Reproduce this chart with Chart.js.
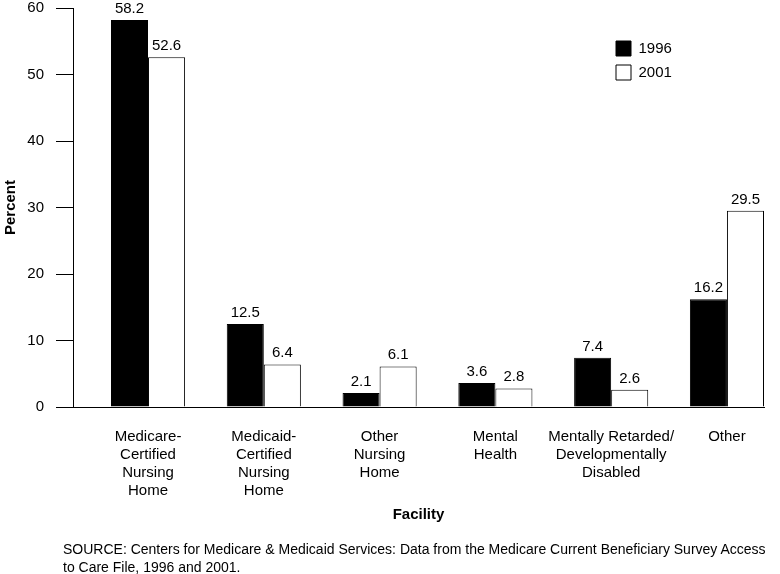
<!DOCTYPE html>
<html>
<head>
<meta charset="utf-8">
<script src="https://cdn.jsdelivr.net/npm/chart.js@4"></script>
<style>
    body { margin: 0; background: #fff; }
    #contenedor { position: relative; width: 780px; height: 574px; }
    #fuente {
        position: absolute; left: 63px; top: 540px;
        font: 14px "Liberation Sans", Arial, sans-serif; line-height: 18px; color: #000;
    }
</style>
</head>
<body>
<div id="contenedor">
    <canvas id="grafica" width="780" height="574"></canvas>
    <div id="fuente">SOURCE: Centers for Medicare &amp; Medicaid Services: Data from the Medicare Current Beneficiary Survey Access<br>to Care File, 1996 and 2001.</div>
</div>
<script>
var categorias = [
    ["Medicare-", "Certified", "Nursing", "Home"],
    ["Medicaid-", "Certified", "Nursing", "Home"],
    ["Other", "Nursing", "Home"],
    ["Mental", "Health"],
    ["Mentally Retarded/", "Developmentally", "Disabled"],
    ["Other"],
];
var valores1996 = [58.2, 12.5, 2.1, 3.6, 7.4, 16.2];
var valores2001 = [52.6, 6.4, 6.1, 2.8, 2.6, 29.5];
var marcasY = [0, 10, 20, 30, 40, 50, 60];

var fuente = '"Liberation Sans", Arial, sans-serif';
Chart.defaults.font.family = fuente;
Chart.defaults.font.size = 15;
Chart.defaults.color = "#000";

function aPuntos(valores) {
    return valores.map(function (v, i) { return { x: i, y: v }; });
}

// numeros encima de cada barra
var etiquetas = {
    id: "etiquetas",
    afterDatasetsDraw: function (chart) {
        var ctx = chart.ctx;
        ctx.save();
        ctx.font = "15px " + fuente;
        ctx.fillStyle = "#000";
        ctx.textAlign = "center";
        ctx.textBaseline = "alphabetic";
        chart.data.datasets.forEach(function (ds, i) {
            chart.getDatasetMeta(i).data.forEach(function (barra, j) {
                ctx.fillText(ds.data[j].y.toFixed(1), barra.x, barra.y - 7);
            });
        });
        ctx.restore();
    },
};

// la leyenda va dentro del area, arriba a la derecha
var moverLeyenda = {
    id: "moverLeyenda",
    afterLayout: function (chart) {
        var lg = chart.legend;
        var w = lg.width, h = lg.height;
        lg.left = 607;
        lg.top = 32;
        lg.right = lg.left + w;
        lg.bottom = lg.top + h;
    },
};

new Chart(document.getElementById("grafica"), {
    type: "bar",
    data: {
        datasets: [
            {
                label: "1996",
                data: aPuntos(valores1996),
                backgroundColor: "#000",
                borderColor: "#000",
                borderWidth: 1,
            },
            {
                label: "2001",
                data: aPuntos(valores2001),
                backgroundColor: "#fff",
                borderColor: "#000",
                borderWidth: 1,
            },
        ],
    },
    options: {
        responsive: false,
        animation: false,
        categoryPercentage: 0.64,
        barPercentage: 1,
        layout: { padding: { left: 0, right: 16, top: 0, bottom: 44 } },
        plugins: {
            tooltip: { enabled: false },
            legend: {
                position: "chartArea",
                align: "start",
                labels: { boxWidth: 15, boxHeight: 15, padding: 9, font: { size: 15 } },
            },
        },
        scales: {
            x: {
                type: "linear",
                offset: false,
                min: -0.648,
                max: 5.32,
                grid: { display: false, drawTicks: false, offset: false },
                border: { display: true, color: "#000", width: 1 },
                afterBuildTicks: function (escala) {
                    escala.ticks = categorias.map(function (c, i) { return { value: i }; });
                },
                afterFit: function (escala) { escala.height = 123; },
                ticks: {
                    autoSkip: false,
                    maxRotation: 0,
                    padding: 21,
                    font: { size: 15 },
                    callback: function (valor) { return categorias[valor]; },
                },
                title: { display: true, text: "Facility", font: { size: 15, weight: "bold" }, padding: { top: 4, bottom: 6 } },
            },
            y: {
                min: 0,
                max: 60,
                afterBuildTicks: function (escala) {
                    escala.ticks = marcasY.map(function (v) { return { value: v }; });
                },
                afterFit: function (escala) {
                    escala.width = 73;
                    escala.paddingTop = 8;
                },
                grid: { drawOnChartArea: false, drawTicks: true, tickLength: 17, color: "#000" },
                border: { display: true, color: "#000", width: 1 },
                ticks: { padding: 12, font: { size: 15 } },
                title: { display: true, text: "Percent", font: { size: 15, weight: "bold" }, padding: { top: 2, bottom: 4 } },
            },
        },
    },
    plugins: [etiquetas, moverLeyenda],
});
</script>
</body>
</html>
